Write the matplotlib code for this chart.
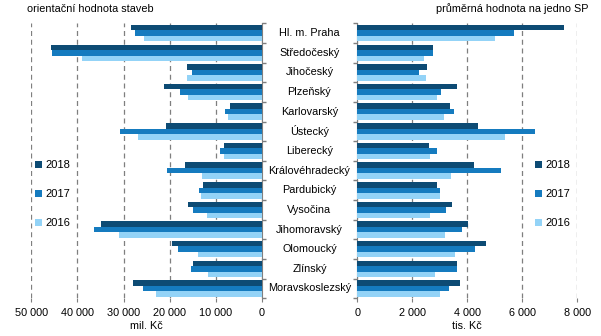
import numpy as np
import matplotlib
matplotlib.use("Agg")
import matplotlib.pyplot as plt

plt.rcParams['font.family'] = ['Liberation Sans', 'DejaVu Sans']

REGIONS = ['Hl. m. Praha', 'Středočeský', 'Jihočeský', 'Plzeňský', 'Karlovarský',
           'Ústecký', 'Liberecký', 'Královéhradecký', 'Pardubický', 'Vysočina',
           'Jihomoravský', 'Olomoucký', 'Zlínský', 'Moravskoslezský']
YEARS = ['2018', '2017', '2016']

# orientační hodnota staveb (mil. Kč)
value_2018 = [28400, 45700, 16200, 21200, 7000, 20800, 8300, 16600, 12700, 16000, 35000, 19500, 14900, 28000]
value_2017 = [27500, 45500, 15100, 17700, 8100, 30800, 9000, 20500, 13600, 14900, 36500, 18200, 15300, 25800]
value_2016 = [25600, 39100, 16200, 16000, 7400, 26900, 8300, 13100, 13300, 12000, 31000, 13800, 11600, 23000]

# průměrná hodnota na jedno SP (tis. Kč)
avg_2018 = [7520, 2770, 2550, 3640, 3380, 4400, 2620, 4250, 2910, 3460, 4040, 4690, 3640, 3750]
avg_2017 = [5700, 2770, 2260, 3060, 3530, 6460, 2880, 5230, 2990, 3240, 3820, 4290, 3640, 3350]
avg_2016 = [5010, 2440, 2480, 2880, 3170, 5380, 2660, 3420, 3020, 2660, 3200, 3570, 2840, 3020]

COLORS = ['#0D4B74', '#157BBF', '#93D3F7']
GRID = '#7f7f7f'


def thousands(v):
    return f"{int(v):,}".replace(',', ' ')


def draw_bars(ax, series):
    y = np.arange(len(REGIONS))
    h = 0.28
    for i, (vals, col, lab) in enumerate(zip(series, COLORS, YEARS)):
        ax.barh(y + (i - 1) * h, vals, height=h, color=col, label=lab, zorder=3)
    ax.set_ylim(len(REGIONS) - 0.5, -0.5)
    ax.set_yticks(np.arange(len(REGIONS) + 1) - 0.5)
    ax.set_yticklabels([])
    for s in ['top', 'bottom', 'left', 'right']:
        ax.spines[s].set_visible(False)
    ax.xaxis.grid(True, linestyle=(0, (4, 3)), color=GRID, linewidth=0.9, zorder=0)
    ax.tick_params(axis='x', length=3, color=GRID, labelsize=7.8, pad=4)
    ax.tick_params(axis='y', length=3, color=GRID, width=1)


fig = plt.figure(figsize=(6.01, 3.36), dpi=100)

# left panel
axl = fig.add_axes([31.3 / 601, 1 - 298.3 / 336, (262 - 31.3) / 601, 275 / 336])
draw_bars(axl, [value_2018, value_2017, value_2016])
axl.set_xlim(50000, 0)
ticks_l = [50000, 40000, 30000, 20000, 10000, 0]
axl.set_xticks(ticks_l)
axl.set_xticklabels([thousands(t) for t in ticks_l])
axl.spines['right'].set_visible(True)
axl.spines['right'].set_color(GRID)
axl.yaxis.tick_right()
axl.tick_params(axis='y', direction='out')
axl.set_xlabel('mil. Kč', fontsize=7.8, labelpad=2)
axl.text(-0.02, 1.035, 'orientační hodnota staveb', transform=axl.transAxes,
         fontsize=7.8, ha='left', va='bottom')
axl.legend(loc='center left', bbox_to_anchor=(-0.027, 0.378), frameon=False,
           fontsize=8, handlelength=0.6, handleheight=0.6, handletextpad=0.3,
           labelspacing=1.7)

# right panel
axr = fig.add_axes([357.3 / 601, 1 - 298.3 / 336, 220 / 601, 275 / 336])
draw_bars(axr, [avg_2018, avg_2017, avg_2016])
axr.set_xlim(0, 8000)
ticks_r = [0, 2000, 4000, 6000, 8000]
axr.set_xticks(ticks_r)
axr.set_xticklabels([thousands(t) for t in ticks_r])
axr.spines['left'].set_visible(True)
axr.spines['left'].set_color(GRID)
axr.set_xlabel('tis. Kč', fontsize=7.8, labelpad=2)
axr.text(1.05, 1.035, 'průměrná hodnota na jedno SP', transform=axr.transAxes,
         fontsize=7.8, ha='right', va='bottom')
axr.legend(loc='center left', bbox_to_anchor=(0.764, 0.378), frameon=False,
           fontsize=8, handlelength=0.6, handleheight=0.6, handletextpad=0.3,
           labelspacing=1.7)

# region names between the panels
for i, name in enumerate(REGIONS):
    yc = 1 - (23.3 + (i + 0.5) * 275 / 14) / 336
    fig.text(309.5 / 601, yc, name, fontsize=7.8, ha='center', va='center')

fig.savefig('out.png', dpi=100)
